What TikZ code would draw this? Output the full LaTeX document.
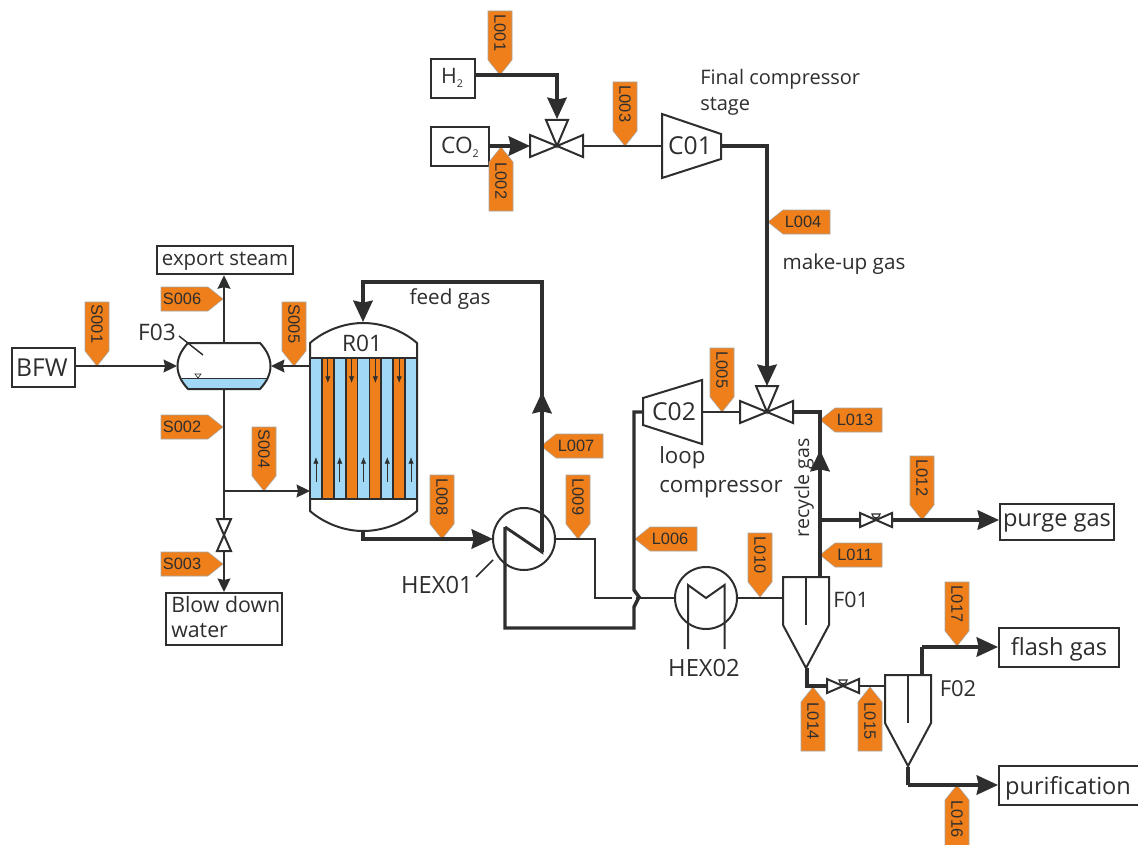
\documentclass[tikz,border=0pt]{standalone}
\usepackage{fontspec}
\setmainfont{Open Sans}
\newfontfamily\tagfont{Liberation Sans}
\usetikzlibrary{arrows.meta}
\definecolor{ink}{HTML}{2E2E2E}
\definecolor{tagor}{HTML}{EE7F1A}
\definecolor{wat}{HTML}{A0D8F5}
\tikzset{
  thin line/.style={draw=ink,line width=1.7pt},
  mid line/.style={draw=ink,line width=2.2pt},
  thick line/.style={draw=ink,line width=2.6pt},
  thinarrow/.style={thin line,-{Stealth[length=10pt,width=9.5pt,inset=1pt]}},
  bigarrow/.style={thick line,-{Stealth[length=16pt,width=14.5pt,inset=1.5pt]}},
  box/.style={draw=ink,line width=1.7pt,fill=white,inner sep=0pt,anchor=north west,text=ink},
  lbl/.style={text=ink,font=\fontsize{15.5}{19}\selectfont,inner sep=0pt},
  equip/.style={draw=ink,line width=1.5pt,fill=white},
  tagshape/.style={fill=tagor,draw=black!35,line width=0.4pt},
  tagtext/.style={text=ink,font=\tagfont\fontsize{12.3}{14}\selectfont,inner sep=0pt},
  tube/.style={draw=ink,line width=.55pt,-{Latex[length=5pt,width=4pt]}}
}
% tags: name, text, tip x, tip y
\newcommand\tagD[4]{\path[tagshape] (#3-12,#4-64) -- (#3+12,#4-64) -- (#3+12,#4-15) -- (#3,#4) -- (#3-12,#4-15) -- cycle;
  \node[tagtext,rotate=-90] (#1) at (#3,#4-42) {#2};}
\newcommand\tagU[4]{\path[tagshape] (#3-12,#4+64) -- (#3+12,#4+64) -- (#3+12,#4+15) -- (#3,#4) -- (#3-12,#4+15) -- cycle;
  \node[tagtext,rotate=-90] (#1) at (#3,#4+34) {#2};}
\newcommand\tagL[4]{\path[tagshape] (#3+62,#4-12) -- (#3+62,#4+12) -- (#3+15,#4+12) -- (#3,#4) -- (#3+15,#4-12) -- cycle;
  \node[tagtext] (#1) at (#3+35,#4) {#2};}
\newcommand\tagR[4]{\path[tagshape] (#3-62,#4-12) -- (#3-62,#4+12) -- (#3-15,#4+12) -- (#3,#4) -- (#3-15,#4-12) -- cycle;
  \node[tagtext] (#1) at (#3-41,#4) {#2};}
% three-way valve: centre x,y
\newcommand\mixvalve[2]{
  \draw[equip] (#1,#2) -- (#1-27,#2-11) -- (#1-27,#2+11) -- cycle;
  \draw[equip] (#1,#2) -- (#1+26,#2-11) -- (#1+26,#2+11) -- cycle;
  \draw[equip] (#1,#2) -- (#1-11,#2-26) -- (#1+11,#2-26) -- cycle;}
\newcommand\ctrlvalve[2]{
  \draw[equip] (#1,#2) -- (#1-16,#2-7) -- (#1-16,#2+7) -- cycle;
  \draw[equip] (#1,#2) -- (#1+16,#2-7) -- (#1+16,#2+7) -- cycle;
  \draw[draw=ink,line width=.9pt] (#1,#2) -- (#1,#2-6);
  \draw[equip,line width=.9pt] (#1-4,#2-6) -- (#1+4,#2-6) arc[start angle=0,end angle=180,radius=4] -- cycle;}
\newcommand\flashdrum[2]{
  \draw[equip] (#1-23,#2) -- (#1+23,#2) -- (#1+23,#2+48) -- (#1,#2+91) -- (#1-23,#2+48) -- cycle;
  \draw[draw=ink,line width=1.3pt] (#1,#2) -- (#1,#2+48);}
\begin{document}
\begin{tikzpicture}[x=0.75pt,y=-0.75pt]
\useasboundingbox (0,0) rectangle (1138,845);
\fill[white] (0,0) rectangle (1138,845);

% === routing points
\coordinate (h2c) at (557,75);
\coordinate (v1) at (557,146);
\coordinate (v1top) at (557,119);
\coordinate (v1l) at (530,146);
\coordinate (v1r) at (583,146);
\coordinate (c01l) at (662,146);
\coordinate (c01r) at (721,146);
\coordinate (c01corner) at (767,146);
\coordinate (v2top) at (767,386);
\coordinate (v2l) at (741,412);
\coordinate (v2r) at (793,412);
\coordinate (c2) at (820,412);
\coordinate (pj) at (820,520);
\coordinate (pvl) at (860,520);
\coordinate (pvr) at (892,520);
\coordinate (f01top) at (820,577);
\coordinate (f01left) at (783,598);
\coordinate (hx1in) at (493,539);
\coordinate (hx1out) at (555,539);
\coordinate (zbot) at (505,628);
\coordinate (zcorner1) at (505,527);
\coordinate (zcorner2) at (542,552);
\coordinate (ztop) at (542,282);
\coordinate (rtop) at (363,282);
\coordinate (rin) at (363,322);
\coordinate (rout) at (363,531);
\coordinate (rout2) at (363,539);
\coordinate (m1) at (595,539);
\coordinate (m2) at (595,598);
\coordinate (hx2in) at (675,598);
\coordinate (hx2out) at (737,598);
\coordinate (jtop) at (634,412);
\coordinate (j1) at (634,590);
\coordinate (j2) at (639,597);
\coordinate (j3) at (634,607);
\coordinate (jbot) at (634,628);
\coordinate (c02l) at (643,412);
\coordinate (c02r) at (702,412);
\coordinate (f01b) at (807,668);
\coordinate (f01c) at (807,686);
\coordinate (lvl) at (827,686);
\coordinate (lvr) at (859,686);
\coordinate (f02l) at (885,686);
\coordinate (f02t) at (922,675);
\coordinate (f02c) at (922,647);
\coordinate (f02b) at (908,767);
\coordinate (f02d) at (908,785);
\coordinate (s1) at (224,366);
\coordinate (f03t) at (224,343);
\coordinate (f03b) at (224,389);
\coordinate (f03l) at (177,366);
\coordinate (f03r) at (271,366);
\coordinate (rl1) at (310,366);
\coordinate (rl2) at (310,491);
\coordinate (sj) at (224,491);
\coordinate (bvt) at (224,519);
\coordinate (bvb) at (224,551);
\coordinate (ar1) at (820,480);
\coordinate (ar1t) at (820,450);
\coordinate (ar2) at (542,430);
\coordinate (ar2t) at (542,392);

% === boxes
\node[box,minimum width=44pt*.75,minimum height=39pt*.75] (h2) at (430,58) {};
\node[text=ink,inner sep=0pt,font=\fontsize{16}{19}\selectfont] (h2t) at (452,78) {H\raisebox{-3pt}{\fontsize{8}{9}\selectfont 2}};
\node[box,minimum width=58pt*.75,minimum height=39pt*.75] (co2) at (430,126) {};
\node[text=ink,inner sep=0pt,font=\fontsize{17}{19}\selectfont] (co2t) at (460,147) {CO\raisebox{-3pt}{\fontsize{8}{9}\selectfont 2}};
\node[box,minimum width=63pt*.75,minimum height=39pt*.75] (bfw) at (11,347) {};
\node[lbl,font=\fontsize{18.5}{20}\selectfont] (bfwt) at (42,368) {BFW};
\node[box,minimum width=136pt*.75,minimum height=28pt*.75] (export) at (156,245) {};
\node[lbl,font=\fontsize{15.3}{17}\selectfont] (exportt) at (225,261) {export steam};
\node[box,minimum width=116pt*.75,minimum height=52pt*.75] (blow) at (165,592) {};
\node[lbl,font=\fontsize{16}{19}\selectfont,anchor=north west,align=left] (blowt) at (171,596) {Blow down\\water};
\node[box,minimum width=114pt*.75,minimum height=36pt*.75] (purge) at (999,503) {};
\node[lbl,font=\fontsize{17.7}{20}\selectfont] (purget) at (1057,523) {purge gas};
\node[box,minimum width=120pt*.75,minimum height=39pt*.75] (flash) at (998,627) {};
\node[lbl,font=\fontsize{17.7}{20}\selectfont] (flasht) at (1059,649) {flash gas};
\node[box,minimum width=141pt*.75,minimum height=39pt*.75] (purif) at (998,765) {};
\node[lbl,font=\fontsize{17.7}{20}\selectfont] (purift) at (1068,788) {purification};

% === tags behind lines
\tagD{tS001}{S001}{97}{366}
\tagD{tS005}{S005}{294}{366}
\tagD{tS004}{S004}{264}{491}
\tagR{tS006}{S006}{223}{299}
\tagR{tS002}{S002}{223}{427}
\tagR{tS003}{S003}{223}{564}
\tagD{tL001}{L001}{500}{75}
\tagU{tL002}{L002}{501}{147}
\tagD{tL003}{L003}{625}{146}
\tagL{tL004}{L004}{768}{222}
\tagD{tL005}{L005}{722}{412}
\tagL{tL006}{L006}{635}{539}
\tagL{tL007}{L007}{541}{446}
\tagD{tL008}{L008}{442}{539}
\tagD{tL009}{L009}{578}{539}
\tagD{tL010}{L010}{760}{597}
\tagL{tL011}{L011}{820}{555}
\tagD{tL012}{L012}{922}{520}
\tagL{tL013}{L013}{820}{420}
\tagU{tL014}{L014}{813}{687}
\tagU{tL015}{L015}{870}{687}
\tagU{tL016}{L016}{957}{785}
\tagD{tL017}{L017}{957}{646}

% === connectors
\draw[bigarrow] (h2c -| h2.east) -- (h2c) -- (v1top);
\draw[bigarrow] (v1 -| co2.east) -- (v1l);
\draw[mid line] (v1r) -- (c01l);
\draw[bigarrow] (c01r) -- (c01corner) -- (v2top);
\draw[mid line] (c02r) -- (v2l);
\draw[mid line] (hx1out) -- (m1) -- (m2) -- (hx2in);
\draw[draw=white,line width=3pt] (634,594) -- (634,603);
\draw[thick line] (c02l) -- (jtop) -- (j1) -- (j2) -- (j3) -- (jbot) -- (zbot) -- (zcorner1);
\draw[thick line] (v2r) -- (c2) -- (f01top);
\draw[bigarrow] (ar1) -- (ar1t);
\draw[bigarrow] (rout) -- (rout2) -- (hx1in);
\draw[mid line] (hx2out) -- (f01left);
\draw[thick line] (pj) -- (pvl);
\draw[bigarrow] (pvr) -- (pj -| purge.west);
\draw[bigarrow] (zcorner2) -- (ztop) -- (rtop) -- (rin);
\draw[bigarrow] (ar2) -- (ar2t);
\draw[thick line] (f01b) -- (f01c) -- (lvl);
\draw[mid line] (lvr) -- (f02l);
\draw[thick line] (f02t) -- (f02c);
\draw[bigarrow] (f02c) -- (f02c -| flash.west);
\draw[thick line] (f02b) -- (f02d);
\draw[bigarrow] (f02d) -- (f02d -| purif.west);
\draw[thinarrow] (s1 -| bfw.east) -- (f03l);
\draw[thinarrow] (rl1) -- (f03r);
\draw[thinarrow] (f03t) -- (f03t |- export.south);
\draw[thin line] (f03b) -- (bvt);
\draw[thinarrow] (bvb) -- (bvb |- blow.north);
\draw[thinarrow] (sj) -- (rl2);

% === compressors, valves
\draw[equip] (662,114) -- (721,134) -- (721,159) -- (662,178) -- cycle;
\node[lbl,font=\fontsize{18.5}{20}\selectfont] (C01) at (690,146) {C01};
\draw[equip] (643,398) -- (702,380) -- (702,444) -- (643,425) -- cycle;
\node[lbl,font=\fontsize{18.5}{20}\selectfont] (C02) at (674,412) {C02};
\mixvalve{557}{146}
\mixvalve{767}{412}
\ctrlvalve{876}{520}
\ctrlvalve{843}{686}
\draw[equip] (224,535) -- (217,519) -- (231,519) -- cycle;
\draw[equip] (224,535) -- (217,551) -- (231,551) -- cycle;

% === heat exchangers
\draw[draw=ink,line width=1.5pt] (524,539) circle[radius=31];
\draw[mid line] (zcorner1) -- (zcorner2) -- (542,510);
\draw[draw=ink,line width=1.5pt] (706,598) circle[radius=31];
\draw[draw=ink,line width=1.5pt] (688,649) -- (688,585) -- (706,598) -- (724.5,585) -- (724.5,649);
\draw[draw=ink,line width=1.1pt] (476,577) -- (493,560);

% === flash drums
\flashdrum{806}{577}
\flashdrum{908}{675}

% === F03
\begin{scope}
\path[clip] (188,343) -- (260,343) .. controls (274,358) and (274,374) .. (260,389) -- (188,389) .. controls (174,374) and (174,358) .. (188,343) -- cycle;
\fill[wat] (170,378) rectangle (280,392);
\end{scope}
\draw[draw=ink,line width=.6pt] (182,378) -- (267,378);
\draw[draw=ink,line width=1.5pt] (188,343) -- (260,343) .. controls (274,358) and (274,374) .. (260,389) -- (188,389) .. controls (174,374) and (174,358) .. (188,343) -- cycle;
\draw[draw=ink,line width=.5pt] (195,374) -- (201,374) -- (198,378) -- cycle;
\draw[draw=ink,line width=1.1pt] (179,336) -- (203,355);

% === R01
\draw[equip] (310,511) -- (310,343) .. controls (325,330) and (345,323) .. (363,323) .. controls (382,323) and (402,330) .. (417,343) -- (417,511) .. controls (402,524) and (382,531) .. (363,531) .. controls (345,531) and (325,524) .. (310,511) -- cycle;
\foreach \i in {0,...,8}{
  \pgfmathsetmacro\xa{310+\i*11.89}
  \pgfmathsetmacro\xb{\xa+11.89}
  \pgfmathtruncatemacro\odd{mod(\i,2)}
  \ifnum\odd=0 \fill[wat] (\xa,358) rectangle (\xb,499); \else \fill[tagor] (\xa,358) rectangle (\xb,499); \fi
  \draw[draw=ink,line width=1.3pt] (\xa,358) -- (\xa,499);
  \pgfmathsetmacro\xc{\xa+5.94}
  \ifnum\odd=0 \draw[tube] (\xc,482) -- (\xc,457); \else \draw[tube] (\xc,359) -- (\xc,383); \fi
}
\draw[draw=ink,line width=1.5pt] (417,358) -- (417,499);
\draw[draw=ink,line width=1.7pt] (310,358) -- (417,358) (310,499) -- (417,499);

% === labels
\node[lbl,font=\fontsize{17}{20}\selectfont] (R01) at (362,343) {R01};
\node[lbl,font=\fontsize{17}{20}\selectfont] (F03) at (157,332) {F03};
\node[lbl,anchor=north west,align=left,font=\fontsize{15}{19.5}\selectfont] (fc) at (700,69) {Final compressor\\stage};
\node[lbl,font=\fontsize{15.5}{18}\selectfont] (feed) at (450,299) {feed gas};
\node[lbl,font=\fontsize{15.5}{18}\selectfont] (make) at (844,264) {make-up gas};
\node[lbl,anchor=north west,align=left,font=\fontsize{16.7}{22}\selectfont] (loop) at (659,446) {loop\\compressor};
\node[lbl,rotate=90,font=\fontsize{14.7}{17}\selectfont] (rec) at (804,488) {recycle gas};
\node[lbl,font=\fontsize{17.8}{20}\selectfont] (hex1) at (437,585) {HEX01};
\node[lbl,font=\fontsize{17.8}{20}\selectfont] (hex2) at (704,668) {HEX02};
\node[lbl,font=\fontsize{16}{19}\selectfont] (f01) at (851,600) {F01};
\node[lbl,font=\fontsize{16.5}{19}\selectfont] (f02) at (958,689) {F02};
\end{tikzpicture}
\end{document}
